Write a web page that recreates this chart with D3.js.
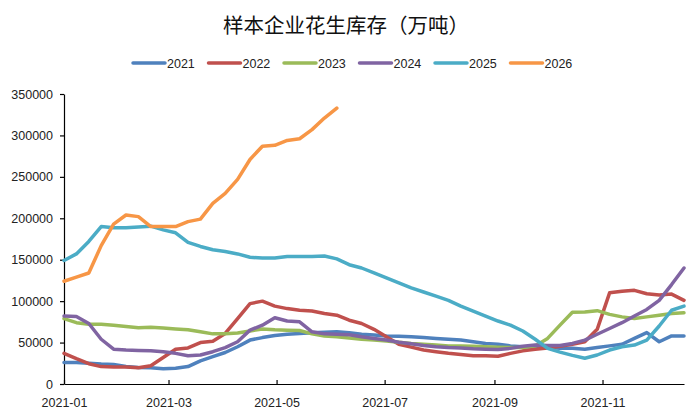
<!DOCTYPE html>
<html>
<head>
<meta charset="utf-8">
<script src="https://cdn.jsdelivr.net/npm/d3@7"></script>
<style>
  body { margin: 0; background: #fff; }
  svg { display: block; }
</style>
</head>
<body>
<div id="chart"></div>
<script>
// weekly dates (all years mapped onto 2021)
const weeks = ["01-01","01-08","01-15","01-22","01-29","02-05","02-12","02-19","02-26",
  "03-05","03-12","03-19","03-26","04-02","04-09","04-16","04-23","04-30",
  "05-07","05-14","05-21","05-28","06-04","06-11","06-18","06-25",
  "07-02","07-09","07-16","07-23","07-30","08-06","08-13","08-20","08-27",
  "09-03","09-10","09-17","09-24","10-01","10-08","10-15","10-22","10-29",
  "11-05","11-12","11-19","11-26","12-03","12-10","12-17"];

const years = ["2021", "2022", "2023", "2024", "2025", "2026"];
const colors = ["#4F81BD", "#C0504D", "#9BBB59", "#8064A2", "#4BACC6", "#F79646"];

// valeurs en milliers
const v2021 = [26,26,25,24,23.5,21,20,19.7,18.5,19,21,28,33,38,45,53,56,58.5,60,61,62,62.5,63,
  62,60,59,58,57.5,57,56,55,54,53,51,49,48,46,45,44,44,43,43,42,44,46,48,55,62,51,58,58];
const v2022 = [37,30.5,24.5,21,20.5,20.5,19.5,22,32,42,43.5,50,51.5,61,79,97,100,94,91,89,88,85,83,
  77,73,66,57,48,44.5,41,39,37,35.5,34,34,33.5,37,40,42,43.5,45.5,48,51,66,110,112,113,109,107.5,108.5,101];
const v2023 = [79,74,72,72,71,69.5,68,68.4,67.5,66.5,65.5,63,60.5,60.5,61.5,64,66.5,65.5,65,64.5,60.5,58,57,
  55.5,54,53,52,50.5,49,48,47,46,46,45.5,45,44.5,44,44,46,55,71,86.5,87,88.5,84,81,79,81,83,85,86];
const v2024 = [82,81.5,73,54,42,41,40.5,40,39,37,34,35,39,44,51,65,71,80,76,75,63,60.5,60,
  59.5,57,55,53,50.5,48.5,46.5,45,44,43.5,42.5,42,41.5,43,45.5,47,46.5,46.5,49,53,60,67,74,82,90,101,120,140];
const v2025 = [149,157,172,190,188.5,188.7,189.5,190.5,186,182.5,171,166,162,160,157,153,152,152,154,154,154,154.5,151,
  144,140,134,128,122,116,111,106,101,94,88,82,76,71,64,54,43,38.5,34.5,31,35,41,45,47,53,70,89,94];
const v2026 = [124,129,134,167,193,204,202,190,190,190,196,199,218,230,247,271,287,288,294,296,307,321,333];

const yTicks = [0, 50000, 100000, 150000, 200000, 250000, 300000, 350000];

const seriesValues = [v2021, v2022, v2023, v2024, v2025, v2026];

const width = 700, height = 420;
const margin = {top: 94, right: 16, bottom: 36, left: 64};

const parse = d3.timeParse("%Y-%m-%d");
const dates = weeks.map(w => parse("2021-" + w));

const svg = d3.select("#chart").append("svg")
  .attr("width", width)
  .attr("height", height);

svg.append("rect").attr("width", width).attr("height", height).attr("fill", "#fff");

const x = d3.scaleTime()
  .domain([dates[0], dates[dates.length - 1]])
  .range([margin.left, width - margin.right]);

const y = d3.scaleLinear()
  .domain([0, 350000])
  .range([height - margin.bottom, margin.top]);

// titre
svg.append("text")
  .attr("x", 346)
  .attr("y", 33)
  .attr("text-anchor", "middle")
  .attr("font-family", "'Noto Sans CJK SC', sans-serif")
  .attr("font-size", "20.5px")
  .attr("fill", "#111")
  .text("样本企业花生库存（万吨）");

// légende
const legend = svg.append("g").attr("transform", "translate(133, 63)");
years.forEach((yr, i) => {
  const g = legend.append("g").attr("transform", `translate(${i * 75.5}, 0)`);
  g.append("line")
    .attr("x1", 0).attr("x2", 32)
    .attr("stroke", colors[i])
    .attr("stroke-width", 3.5)
    .attr("stroke-linecap", "round");
  g.append("text")
    .attr("x", 34)
    .attr("dy", "0.36em")
    .attr("font-family", "'Liberation Sans', Arial, sans-serif")
    .attr("font-size", "12.5px")
    .attr("fill", "#222")
    .text(yr);
});

// axes
const yAxis = svg.append("g")
  .attr("transform", `translate(${margin.left},0)`)
  .call(d3.axisLeft(y).tickValues(yTicks).tickSize(4).tickSizeOuter(0).tickPadding(7).tickFormat(d3.format("d")));

const xAxis = svg.append("g")
  .attr("transform", `translate(0,${height - margin.bottom})`)
  .call(d3.axisBottom(x).ticks(d3.timeMonth.every(2)).tickSize(-4).tickSizeOuter(0).tickPadding(14)
    .tickFormat(d3.timeFormat("%Y-%m")));

[yAxis, xAxis].forEach(ax => {
  ax.selectAll("path, line").attr("stroke", "#000").attr("stroke-width", 1.2);
  ax.selectAll("text")
    .attr("font-family", "'Liberation Sans', Arial, sans-serif")
    .attr("font-size", "12.5px")
    .attr("fill", "#222");
});

// lignes
const line = d3.line()
  .x((d, i) => x(dates[i]))
  .y(d => y(d * 1000));

seriesValues.forEach((vals, i) => {
  svg.append("path")
    .datum(vals)
    .attr("fill", "none")
    .attr("stroke", colors[i])
    .attr("stroke-width", 3.5)
    .attr("stroke-linejoin", "round")
    .attr("stroke-linecap", "round")
    .attr("d", line);
});
</script>
</body>
</html>
